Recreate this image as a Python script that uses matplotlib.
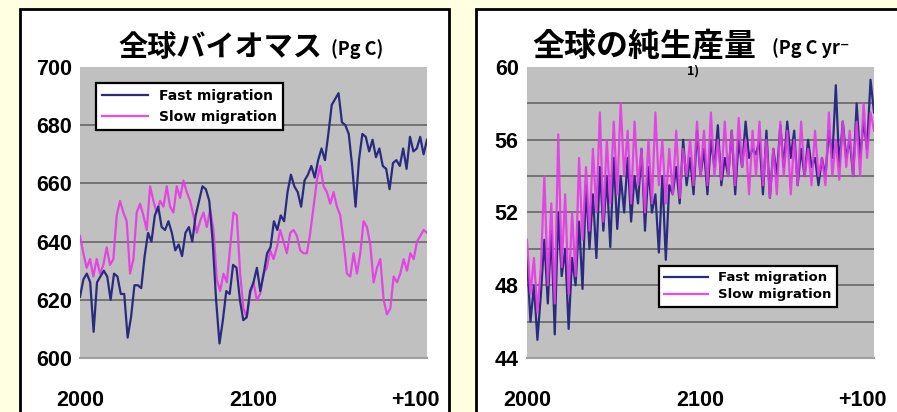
import numpy as np
import matplotlib.pyplot as plt
from matplotlib.patches import Rectangle
from matplotlib.transforms import ScaledTranslation

W, H = 897, 412

# global biomass (Pg C), roughly every 2 years 2000-2200
biomass_fast = [621, 627, 629, 626, 609, 626, 628, 630, 628, 620, 629, 628, 622, 622, 607,
                614, 625, 625, 624, 635, 643, 640, 649, 652, 645, 644, 647, 643, 637, 639,
                635, 643, 645, 640, 649, 654, 659, 658, 654, 640, 620, 605, 613, 623, 622,
                632, 631, 620, 613, 614, 623, 626, 631, 623, 629, 636, 638, 647, 644, 649,
                647, 657, 663, 659, 657, 652, 661, 663, 666, 662, 668, 672, 668, 677, 687,
                689, 691, 681, 680, 677, 666, 652, 668, 677, 676, 671, 675, 669, 672, 666,
                665, 658, 667, 668, 666, 672, 665, 676, 671, 672, 676, 670, 675]
biomass_slow = [642, 636, 631, 634, 628, 634, 629, 632, 638, 632, 634, 649, 654, 650, 647,
                629, 634, 650, 653, 649, 644, 659, 654, 650, 654, 652, 659, 652, 650, 659,
                655, 661, 657, 654, 649, 643, 647, 650, 645, 651, 644, 627, 623, 629, 626,
                638, 650, 649, 629, 617, 614, 622, 626, 620, 622, 629, 631, 637, 634, 638,
                644, 640, 636, 643, 644, 642, 637, 636, 636, 643, 652, 661, 666, 659, 657,
                653, 657, 652, 649, 640, 629, 628, 636, 629, 636, 647, 645, 639, 626, 631,
                634, 620, 615, 617, 628, 626, 629, 634, 630, 636, 634, 640, 642, 644, 643]

# global net primary production (Pg C yr-1), every 2 years 2000-2200
npp_fast = [49.5, 46.0, 48.0, 45.0, 47.5, 50.5, 47.0, 51.0, 45.3, 52.0, 48.5, 50.0, 45.6, 49.5,
            48.0, 51.5, 47.8, 53.5, 50.0, 53.0, 49.5, 54.5, 51.0, 54.0, 50.1, 55.0, 51.1, 54.0,
            52.0, 55.0, 51.5, 54.0, 52.5, 55.5, 51.0, 54.5, 52.0, 53.0, 49.8, 54.0, 49.4, 53.5,
            53.0, 54.5, 52.5, 56.0, 53.5, 55.0, 53.0, 56.5, 54.0, 55.5, 53.0, 56.0, 54.5, 56.8,
            53.5, 55.0, 54.0, 56.5, 53.0, 56.0, 54.5, 57.0, 55.0, 55.5, 55.2, 56.0, 53.0, 56.5,
            52.8, 55.5, 54.0, 56.8, 54.5, 57.0, 55.0, 56.5, 53.5, 55.5, 54.0, 56.0, 54.5, 55.0,
            53.5, 55.0, 54.0, 56.5, 55.0, 59.0, 54.5, 57.0, 55.0, 56.0, 54.0, 58.0, 55.0, 57.0,
            55.5, 59.3, 57.5]
npp_slow = [50.5, 47.5, 49.5, 46.5, 49.0, 54.0, 48.0, 52.5, 47.0, 56.3, 49.0, 53.0, 47.5, 52.0,
            48.5, 55.0, 50.5, 54.5, 51.0, 55.5, 52.0, 57.5, 51.5, 56.0, 52.5, 57.0, 53.0, 58.0,
            54.0, 56.5, 52.5, 57.0, 53.5, 55.5, 52.0, 56.0, 52.5, 57.5, 53.5, 56.0, 52.5, 55.5,
            53.0, 56.5, 52.8, 55.5, 54.0, 56.0, 53.5, 57.0, 54.0, 56.5, 53.5, 57.5, 54.0, 56.0,
            53.8, 57.0, 54.0, 56.5, 53.5, 57.2, 54.5, 56.0, 53.0, 56.5, 54.0, 57.0, 53.5, 56.0,
            52.8, 55.5, 53.0, 57.0, 54.0, 56.5, 53.0, 56.0, 53.5, 57.0, 54.0, 55.5, 53.5, 56.5,
            54.0, 55.0, 53.5, 57.5, 54.0, 56.0, 53.8, 57.0, 54.5, 56.5, 54.0, 57.0, 54.0, 58.0,
            55.0, 57.5, 56.5]

xtick_vals = [2000, 2100, 2200]
xtick_labels = ['2000', '2100', '+100']

FAST = '#2a2a80'
SLOW = '#e838e8'
JP = ['Noto Sans CJK JP', 'DejaVu Sans']


def fx(px):
    return px / W


def fy(py):
    return 1 - py / H


fig = plt.figure(figsize=(W / 100, H / 100), dpi=100)
fig.patch.set_facecolor('#ffffe2')

# white framed panels behind the axes
for x0, x1 in [(20, 449), (476, 910)]:
    fig.patches.append(Rectangle((fx(x0), fy(430)), (x1 - x0) / W, (430 - 9) / H,
                                 transform=fig.transFigure, facecolor='white',
                                 edgecolor='black', lw=2, zorder=-5))


def setup(ax, ylim, labelled, grid):
    ax.set_facecolor('#c0c0c0')
    ax.set_xlim(2000, 2200)
    ax.set_ylim(*ylim)
    for s in ['top', 'right', 'left']:
        ax.spines[s].set_visible(False)
    ax.spines['bottom'].set_color('#a0a0a0')
    ax.spines['bottom'].set_linewidth(1.5)
    for g in grid:
        ax.axhline(g, color='#6e6e6e', lw=1.3, zorder=1)
    ax.set_yticks(labelled)
    ax.set_xticks(xtick_vals)
    ax.set_xticklabels(xtick_labels)
    ax.tick_params(length=0, labelsize=15.5)
    ax.tick_params(axis='y', pad=6)
    ax.tick_params(axis='x', pad=23)
    for t in ax.get_xticklabels() + ax.get_yticklabels():
        t.set_fontweight('bold')
        t.set_family('Liberation Sans')
    # last year label sits a little inside the panel edge
    last = ax.get_xticklabels()[-1]
    last.set_transform(last.get_transform() + ScaledTranslation(-12 / 100, 0, fig.dpi_scale_trans))


ax1 = fig.add_axes([fx(80), fy(358), 347 / W, 291 / H])
setup(ax1, (600, 700), range(600, 701, 20), range(620, 700, 20))
x1 = np.linspace(2000, 2200, len(biomass_fast))
x1s = np.linspace(2000, 2200, len(biomass_slow))
ax1.plot(x1, biomass_fast, color=FAST, lw=1.6, zorder=3, label='Fast migration')
ax1.plot(x1s, biomass_slow, color=SLOW, lw=1.6, alpha=0.9, zorder=2, label='Slow migration')
leg1 = ax1.legend(loc='upper left', bbox_to_anchor=(fx(96), fy(83)),
                  bbox_transform=fig.transFigure, borderaxespad=0, fancybox=False,
                  edgecolor='black', framealpha=1, handlelength=3.3, handletextpad=0.8,
                  labelspacing=0.45, borderpad=0.45,
                  prop={'family': 'DejaVu Sans', 'weight': 'bold', 'size': 10})
leg1.get_frame().set_linewidth(1.6)

ax2 = fig.add_axes([fx(527), fy(358), 347 / W, 291 / H])
setup(ax2, (44, 60), range(44, 61, 4), range(46, 60, 2))
x2 = np.linspace(2000, 2200, len(npp_fast))
ax2.plot(x2, npp_fast, color=FAST, lw=1.6, zorder=2, label='Fast migration')
ax2.plot(x2, npp_slow, color=SLOW, lw=1.6, alpha=0.9, zorder=3, label='Slow migration')
leg2 = ax2.legend(loc='upper left', bbox_to_anchor=(fx(659), fy(266)),
                  bbox_transform=fig.transFigure, borderaxespad=0, fancybox=False,
                  edgecolor='black', framealpha=1, handlelength=3.3, handletextpad=0.8,
                  labelspacing=0.3, borderpad=0.4,
                  prop={'family': 'DejaVu Sans', 'weight': 'bold', 'size': 9.5})
leg2.get_frame().set_linewidth(1.6)

# titles
fig.text(fx(118), fy(47), '全球バイオマス', family=JP, fontsize=21, fontweight='bold',
         va='center', ha='left')
fig.text(fx(331), fy(49), '(Pg C)', family=JP, fontsize=13, fontweight='bold',
         va='center', ha='left')
fig.text(fx(532), fy(46), '全球の純生産量', family=JP, fontsize=23, fontweight='bold',
         va='center', ha='left')
fig.text(fx(772), fy(48), '(Pg C yr⁻', family=JP, fontsize=13, fontweight='bold',
         va='center', ha='left')
fig.text(fx(687), fy(71), '1)', family=JP, fontsize=9, fontweight='bold',
         va='center', ha='left')

fig.savefig('out.png', dpi=100, facecolor=fig.get_facecolor())
